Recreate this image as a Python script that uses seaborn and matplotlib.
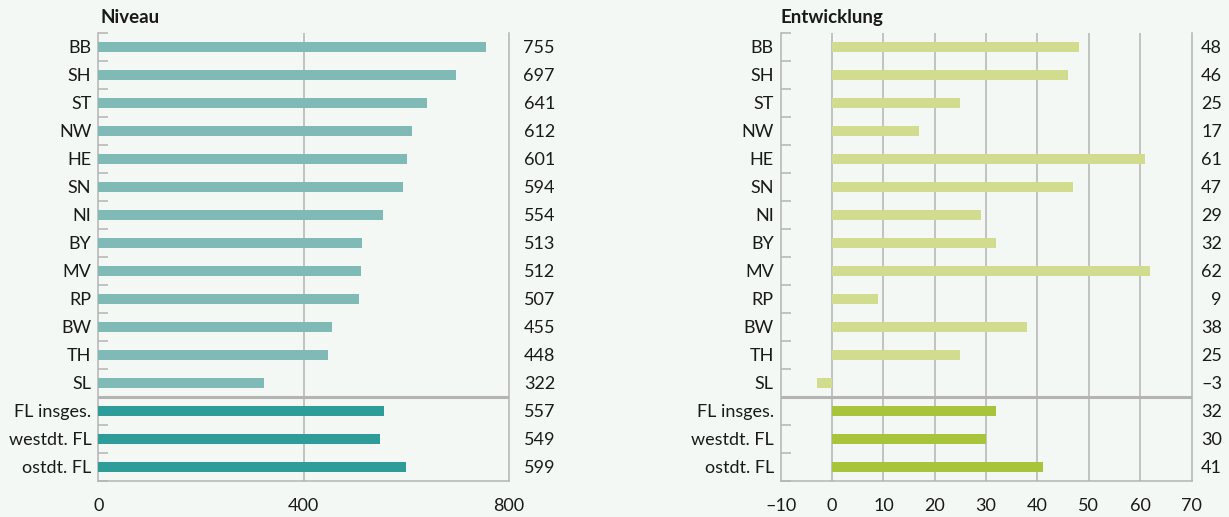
import pandas as pd
import seaborn as sns
import matplotlib.pyplot as plt
import matplotlib.transforms as mtrans
import numpy as np

# data
cats = ["BB", "SH", "ST", "NW", "HE", "SN", "NI", "BY", "MV", "RP", "BW", "TH", "SL",
        "FL insges.", "westdt. FL", "ostdt. FL"]
niveau = [755, 697, 641, 612, 601, 594, 554, 513, 512, 507, 455, 448, 322, 557, 549, 599]
entw = [48, 46, 25, 17, 61, 47, 29, 32, 62, 9, 38, 25, -3, 32, 30, 41]
n_states = 13

bg = "#f3f8f4"
grey = "#b4b4b4"
left_cols = ["#7fbab7"] * n_states + ["#2e9c98"] * 3
right_cols = ["#d1dc8f"] * n_states + ["#a8c43a"] * 3

sns.set_theme(style="white")
plt.rcParams["font.family"] = ["Lato", "DejaVu Sans"]
plt.rcParams["axes.facecolor"] = bg
plt.rcParams["figure.facecolor"] = bg

df = pd.DataFrame({"cat": cats, "niveau": niveau, "entw": entw})

W, H = 1229, 517
fig = plt.figure(figsize=(W / 100, H / 100), dpi=100)
ax1 = fig.add_axes([98.3 / W, 1 - 481 / H, (509 - 98.3) / W, (481 - 32.7) / H])
ax2 = fig.add_axes([780.7 / W, 1 - 481 / H, (1191.5 - 780.7) / W, (481 - 32.7) / H])


def fmt(v):
    return str(v).replace("-", "\u2013")


def style(ax, vals, cols, xlim, xticks, grid, title, title_x, label_x):
    sns.barplot(data=df, y="cat", x=vals, hue="cat", palette=cols, legend=False,
                width=0.36, saturation=1, linewidth=0, ax=ax, zorder=3)
    ax.set_xlim(*xlim)
    ax.set_ylim(15.5, -0.5)
    ax.set_xlabel("")
    ax.set_ylabel("")
    for g in grid:
        ax.axvline(g, color=grey, lw=1.1, zorder=1)
    ax.axhline(n_states - 0.5, color=grey, lw=2.2, zorder=4)
    for s in ["left", "bottom", "right"]:
        ax.spines[s].set_visible(True)
        ax.spines[s].set_color(grey)
        ax.spines[s].set_linewidth(1.1)
    ax.spines["top"].set_visible(False)
    ax.set_xticks(xticks)
    ax.set_xticklabels([fmt(t) for t in xticks])
    ax.set_yticks(np.arange(-0.5, 16, 1), minor=True)
    ax.tick_params(axis="y", which="major", length=0, pad=5, labelsize=13, colors="#1a1a1a")
    ax.tick_params(axis="y", which="minor", direction="in", length=7.2, width=1.1, color=grey, left=True)
    ax.tick_params(axis="x", length=0, pad=12, labelsize=13, colors="#1a1a1a")
    ttr = mtrans.blended_transform_factory(fig.transFigure, ax.transAxes)
    ax.text(title_x / W, 1 + 10 / 448, title, transform=ttr, fontsize=13.5, fontweight="bold",
            ha="left", va="baseline", color="#1a1a1a")
    tr = mtrans.blended_transform_factory(fig.transFigure, ax.transData)
    for i, v in enumerate(vals):
        ax.text(label_x / W, i, fmt(v), transform=tr, ha="right", va="center_baseline",
                fontsize=13, color="#1a1a1a")


style(ax1, niveau, left_cols, (0, 800), [0, 400, 800], [400], "Niveau", 100, 555)
style(ax2, entw, right_cols, (-10, 70), list(range(-10, 80, 10)), list(range(0, 70, 10)),
      "Entwicklung", 781, 1222)

fig.savefig("out.png", dpi=100, facecolor=bg)
